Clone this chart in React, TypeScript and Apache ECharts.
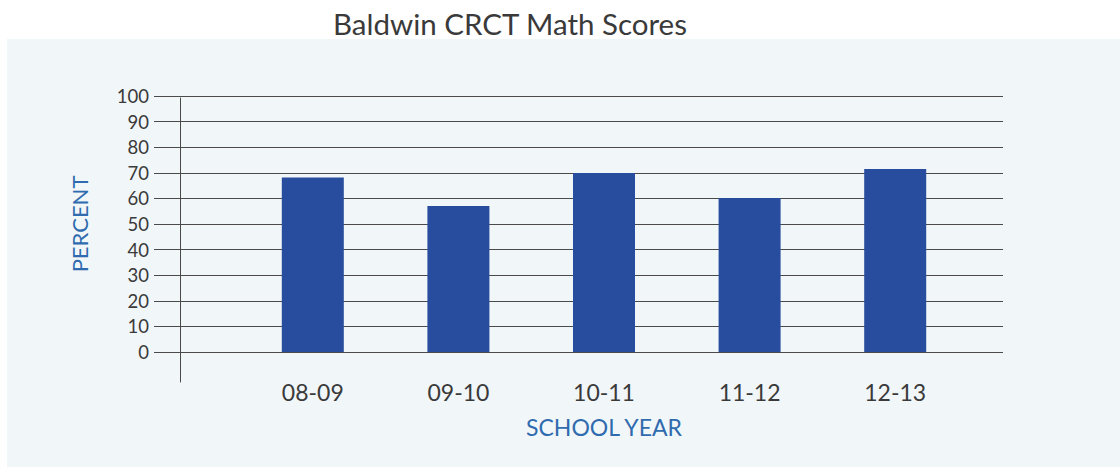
import React, { useEffect, useRef } from "react";
import * as echarts from "echarts";

const schoolYears = ["08-09", "09-10", "10-11", "11-12", "12-13"];
const mathScores = [68.2, 57.0, 69.9, 60.2, 71.5];
const yMin = 0;
const yMax = 100;
const yStep = 10;

const FONT = "Lato";
const BLUE_TEXT = "#2f6bae";
const BAR = "#294d9e";
const INK = "#3a3a3a";
const LINE = "#4a4a4a";

export default function App() {
  const ref = useRef<HTMLDivElement>(null);
  useEffect(() => {
    if (!ref.current) return;
    const chart = echarts.init(ref.current, undefined, { renderer: "svg" });
    chart.setOption({
      animation: false,
      textStyle: { fontFamily: FONT },
      title: {
        text: "Baldwin CRCT Math Scores",
        left: 328,
        top: 3,
        textStyle: { fontFamily: FONT, fontSize: 29.5, fontWeight: "normal", color: INK },
      },
      graphic: [
        {
          type: "rect",
          z: -100,
          silent: true,
          shape: { x: 7, y: 39, width: 1113, height: 428 },
          style: { fill: "#f1f6f9" },
        },
      ],
      grid: [
        { left: 154, right: 117, top: 96, bottom: 115 },
        { left: 240, right: 152, top: 96, bottom: 115 },
        { left: 180, right: 939, top: 98, bottom: 85 },
      ],
      xAxis: [
        { type: "category", gridIndex: 0, data: schoolYears, show: false },
        {
          type: "category",
          gridIndex: 1,
          data: schoolYears,
          axisLine: { show: false },
          axisTick: { show: false },
          axisLabel: { fontFamily: FONT, fontSize: 23, color: INK, margin: 28 },
          name: "SCHOOL YEAR",
          nameLocation: "middle",
          nameGap: 63,
          nameTextStyle: { fontFamily: FONT, fontSize: 23, color: BLUE_TEXT },
        },
        { type: "category", gridIndex: 2, data: schoolYears, show: false },
      ],
      yAxis: [
        {
          type: "value",
          gridIndex: 0,
          min: yMin,
          max: yMax,
          interval: yStep,
          axisLine: { show: false },
          axisTick: { show: false },
          axisLabel: { fontFamily: FONT, fontSize: 18.5, color: INK, margin: 5 },
          splitLine: { lineStyle: { color: LINE, width: 1 } },
          name: "PERCENT",
          nameLocation: "middle",
          nameGap: 64,
          nameTextStyle: { fontFamily: FONT, fontSize: 22, color: BLUE_TEXT },
        },
        { type: "value", gridIndex: 1, min: yMin, max: yMax, show: false },
        {
          type: "value",
          gridIndex: 2,
          min: yMin,
          max: yMax,
          axisLine: { show: true, lineStyle: { color: LINE, width: 1 } },
          axisTick: { show: false },
          axisLabel: { show: false },
          splitLine: { show: false },
        },
      ],
      series: [
        {
          type: "bar",
          xAxisIndex: 1,
          yAxisIndex: 1,
          data: mathScores,
          barWidth: 62,
          itemStyle: { color: BAR },
        },
      ],
    });
    return () => chart.dispose();
  }, []);
  return (
    <div
      ref={ref}
      style={{ position: "absolute", left: 0, top: 0, width: 1120, height: 467 }}
    />
  );
}
